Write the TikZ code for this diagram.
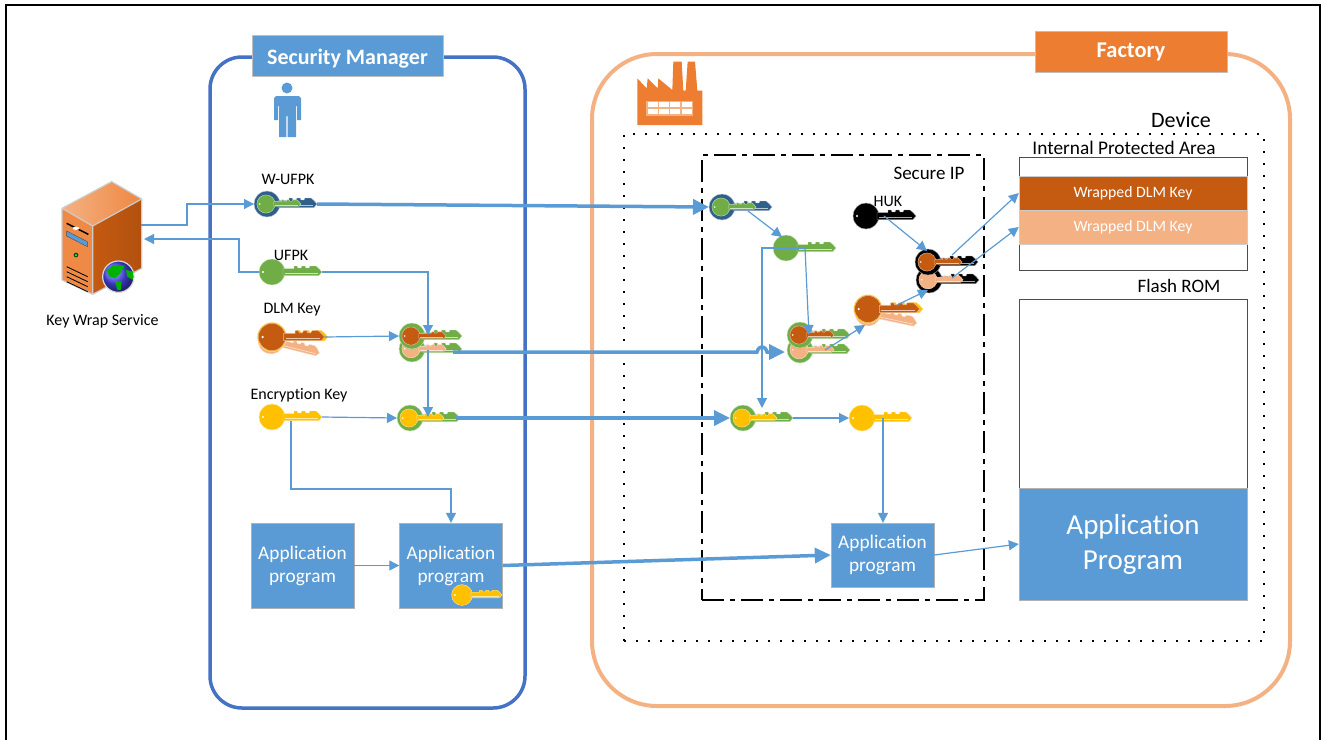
\documentclass[tikz,border=0pt]{standalone}
\usepackage{fontspec}
\setmainfont{Carlito}[Ligatures=CommonOff]
\usetikzlibrary{arrows.meta}

\definecolor{boxblue}{HTML}{5B9BD5}
\definecolor{mgrblue}{HTML}{4472C4}
\definecolor{factorange}{HTML}{ED7D31}
\definecolor{peach}{HTML}{F4B183}
\definecolor{rust}{HTML}{C55A11}
\definecolor{keygreen}{HTML}{70AD47}
\definecolor{keyyellow}{HTML}{FFC000}
\definecolor{keyblue}{HTML}{2F5F8A}

\tikzset{
    flow/.style={draw=boxblue, line width=1.2, -{Triangle[length=10pt,width=10pt]}},
    bigflow/.style={draw=boxblue, line width=3.5, -{Triangle[length=16pt,width=15pt]}},
    appbox/.style={draw=black!30, fill=boxblue, text=white, inner sep=0, align=center, font=\fontsize{19.3}{23}\selectfont},
    memorybox/.style={draw=black!70, fill=white, inner sep=0, minimum width=228},
    wrapbox/.style={draw=black!20, inner sep=0, minimum width=228, minimum height=34, text=white, font=\fontsize{15.8}{16}\selectfont},
    keylabel/.style={inner sep=0, font=\fontsize{16}{18}\selectfont},
    pics/ukey/.style={code={
        \filldraw[fill=#1, draw=#1!40!white, line width=.4] (0,0) circle (13);
        \filldraw[fill=#1, draw=#1!40!white, line width=.4] (11,-3.5) -- (22,-3.5) -- (22,-6) -- (25,-6) -- (26,-4) -- (29,-4) -- (30,-6) -- (33,-6) -- (34,-4) -- (37,-4) -- (38,-6) -- (44,-6) -- (47,-3.5) -- (50,0) -- (47,3.5) -- (11,3.5) -- cycle;
        \draw[#1!35!white, line width=.6] (13,1.5) -- (46,1.5);
        \fill[white] (-9,0) circle (1.2);
        \coordinate (-head) at (-13,0);
        \coordinate (-tip) at (50,0);
    }},
    pics/wrapkey/.style 2 args={code={
        \pic {ukey=#1};
        \pic[scale=.7] at (-1,0) {ukey=#2};
        \coordinate (-head) at (-13,0);
        \coordinate (-tip) at (50,0);
    }},
}

\begin{document}
\begin{tikzpicture}[x=1pt, y=-1pt]
    \useasboundingbox (0,0) rectangle (1322,740);
    \draw[line width=2.5] (6,740) -- (6,5) -- (1320,5) -- (1320,740);

    \node[draw=mgrblue, line width=3.5, rounded corners=32, minimum width=315, minimum height=651, inner sep=0] (manager) at (367.5,382.5) {};
    \node[draw=peach, line width=4, rounded corners=65, minimum width=698, minimum height=652, inner sep=0] (factory) at (941,380) {};
    \node[draw=black!25, fill=boxblue, text=white, inner sep=0, minimum width=191, minimum height=41, text depth=0, font=\fontsize{22}{24}\selectfont\bfseries] (managertitle) at (347.5,55.5) {\raisebox{-2pt}{Security Manager}};
    \node[draw=black!25, fill=factorange, text=white, inner sep=0, minimum width=192, minimum height=41, font=\fontsize{22.5}{24}\selectfont\bfseries] (factorytitle) at (1131,51.5) {\raisebox{-2pt}{Factory}};

    \node[draw, line width=2, dash pattern=on 2pt off 10pt, inner sep=0, minimum width=640, minimum height=507] (device) at (944,387.5) {};
    \node[draw, line width=2, dash pattern=on 22pt off 6pt on 5pt off 6pt, inner sep=0, minimum width=282, minimum height=445] (secureip) at (843,377.5) {};
    \node[inner sep=0, font=\fontsize{22}{24}\selectfont] (devicelabel) at (1181,120) {Device};
    \node[inner sep=0, font=\fontsize{19.3}{20}\selectfont] (iparea) at (1124,148) {Internal Protected Area};
    \node[inner sep=0, font=\fontsize{19}{20}\selectfont] (iplabel) at (929,173) {Secure IP};
    \node[inner sep=0, font=\fontsize{19}{20}\selectfont] (flashlabel) at (1179,286) {Flash ROM};

    \node[memorybox, minimum height=113] (ipbox) at (1133,213.5) {};
    \node[wrapbox, fill=rust] (wrapped1) at (1133,193) {Wrapped DLM Key};
    \node[wrapbox, fill=peach] (wrapped2) at (1133,227) {Wrapped DLM Key};
    \node[memorybox, minimum height=301] (flashbox) at (1133,450) {};
    \node[appbox, minimum width=228, minimum height=112, font=\fontsize{29}{35}\selectfont] (flashapp) at (1133,544) {\raisebox{-4pt}{Application}\\\raisebox{-4pt}{Program}};

    \node[appbox, minimum width=103, minimum height=85] (app1) at (302.5,565.5) {\raisebox{-3pt}{Application}\\\raisebox{-3pt}{program}};
    \node[appbox, minimum width=103, minimum height=85] (app2) at (451,565.5) {\raisebox{-3pt}{Application}\\\raisebox{-3pt}{program}};
    \node[appbox, minimum width=103, minimum height=64] (app3) at (882.5,555) {\raisebox{-3pt}{Application}\\\raisebox{-3pt}{program}};

    \begin{scope}[shift={(50,175)}, scale=1/3]
        \shade[left color=peach, right color=factorange!80!peach] (185,20) -- (275,72) -- (128,153) -- (36,100) -- cycle;
        \fill[factorange!90!white] (36,100) -- (128,153) -- (128,358) -- (36,315) -- cycle;
        \shade[left color=rust, right color=rust!90!black] (128,153) -- (275,72) -- (275,280) -- (128,358) -- cycle;
        \draw[black!20, line width=1.2, line join=round] (185,20) -- (275,72) -- (275,280) -- (128,358) -- (36,315) -- (36,100) -- cycle (36,100) -- (128,153) -- (275,72) (128,153) -- (128,358);
        \draw[black, line width=1.5] (50,145) -- (115,178);
        \fill[white] (78,160) ellipse (10 and 5);
        \filldraw[fill=boxblue, draw=black!70] (50,168) -- (112,200) -- (112,215) -- (50,183) -- cycle;
        \fill[green!30!black] (78,240) circle (7);
        \fill[green!60!white] (78,240) circle (3);
        \draw[black, line width=.8] (50,275) -- (113,305) (50,290) -- (113,320) (50,305) -- (113,335) (50,320) -- (113,350);
        \shade[ball color=blue!70!white, draw=black!15, line width=1.2] (205,305) circle (47);
        \fill[green!70!black] (170,285) -- (190,270) -- (225,272) -- (210,295) -- (195,310) -- (178,305) -- cycle;
        \fill[green!70!black] (195,318) -- (215,320) -- (212,345) -- (202,345) -- cycle;
        \fill[green!70!black] (228,285) -- (250,290) -- (248,315) -- (232,305) -- cycle;
    \end{scope}
    \node[keylabel] (wraplabel) at (102.5,321) {Key Wrap Service};
    \coordinate (server-out) at (141,225);
    \coordinate (server-in) at (144,239);

    \fill[boxblue] (287,88) circle (5.5);
    \fill[boxblue] (274,98) -- (276,96) -- (299,96) -- (301,98) -- (301,120) -- (297,120) -- (297,106) -- (296,106) -- (296,137) -- (287.6,137) -- (287.6,116) -- (286.4,116) -- (286.4,137) -- (279,137) -- (279,106) -- (278,106) -- (278,120) -- (274,120) -- cycle;

    \begin{scope}[shift={(620,50)}, scale=1/3]
        \fill[factorange] (52,85) -- (80,115) -- (83,85) -- (113,115) -- (115,85) -- (157,120) -- (160,35) -- (185,35) -- (190,122) -- (197,122) -- (203,35) -- (225,35) -- (232,122) -- (247,122) -- (247,225) -- (52,225) -- cycle;
        \fill[peach] (78,152) rectangle (220,197);
        \foreach \i in {0,1,2,3} {
            \fill[white] (83+34*\i,157) rectangle (113+34*\i,172);
            \fill[white] (83+34*\i,177) rectangle (113+34*\i,192);
        }
    \end{scope}

    \pic (wufpk) at (267,204) {wrapkey={keyblue}{keygreen}};
    \node[keylabel] (wufpklabel) at (288,179) {W-UFPK};
    \pic (ufpk) at (272,272) {ukey=keygreen};
    \node[keylabel] (ufpklabel) at (291,255) {UFPK};
    \pic[rotate=-14] (dlmback) at (271,341) {ukey=peach};
    \pic[scale=1.12] (dlmring) at (272,337) {ukey=keyyellow};
    \pic[scale=1.05] (dlm) at (272,337) {ukey=rust};
    \node[keylabel] (dlmlabel) at (292,310) {DLM Key};
    \pic (enc) at (272,417) {ukey=keyyellow};
    \node[keylabel] (enclabel) at (299,395) {Encryption Key};

    \pic[rotate=-13] (cdlmback) at (412,349) {wrapkey={keygreen}{peach}};
    \pic (cdlm) at (412,336) {wrapkey={keygreen}{rust}};
    \pic (cenc) at (410,418) {wrapkey={keygreen}{keyyellow}};
    \pic[scale=.8] (appkey) at (462,595) {ukey=keyyellow};

    \pic (swufpk) at (722,207) {wrapkey={keyblue}{keygreen}};
    \pic (sufpk) at (786,248) {ukey=keygreen};
    \pic (huk) at (866,216) {ukey=black};
    \node[keylabel] (huklabel) at (888,201) {HUK};
    \pic[rotate=-13] (scdlmback) at (800,350) {wrapkey={keygreen}{peach}};
    \pic (scdlm) at (800,335) {wrapkey={keygreen}{rust}};
    \pic[rotate=-12] (sdlmback) at (868,313) {ukey=peach};
    \pic[scale=1.1] (sdlmring) at (868,309) {ukey=keyyellow};
    \pic[scale=1.03] (sdlm) at (868,309) {ukey=rust};
    \pic[rotate=-12] (hwrapback) at (929,280) {wrapkey={black}{peach}};
    \pic (hwrap) at (928,262) {wrapkey={black}{rust}};
    \pic (scenc) at (743,418) {wrapkey={keygreen}{keyyellow}};
    \pic (senc) at (862,418) {ukey=keyyellow};

    \coordinate (cdlm-in) at (428,335);
    \coordinate (cdlm-out) at (428,350);
    \coordinate (cenc-in) at (428,417);
    \coordinate (enc-down) at (291,421);
    \coordinate (dlm-thick) at (453,352);
    \coordinate (cenc-thick) at (456,418);
    \coordinate (scdlm-thick) at (785,352);
    \coordinate (scdlm-in) at (809,335);
    \coordinate (scenc-in) at (762,408);
    \coordinate (sufpk-branch) at (805,248);
    \coordinate (swufpk-out) at (748,211);
    \coordinate (sufpk-in) at (782,237);
    \coordinate (huk-out) at (884,216);
    \coordinate (hwrap-in) at (927,251);
    \coordinate (scdlm-out) at (825,350);
    \coordinate (sdlm-in) at (865,325);
    \coordinate (sdlm-out) at (897,305);
    \coordinate (hwrap-in2) at (928,290);
    \coordinate (hwrap-out) at (952,255);
    \coordinate (hwrap-out2) at (952,278);
    \coordinate (senc-down) at (883,418);

    \draw[flow] (server-out) -- (187,225) |- (wufpk-head);
    \draw[flow] (ufpk-head) -- (239,272) |- (server-in);
    \draw[flow] (ufpk-tip) -| (cdlm-in);
    \draw[flow] (dlm-tip) -- (cdlm-head);
    \draw[flow] (cdlm-out) -- (cenc-in);
    \draw[flow] (enc-tip) -- (cenc-head);
    \draw[flow] (enc-down) |- (451,489) -- (app2.north);
    \draw[flow] (app1) -- (app2);

    \draw[bigflow] (wufpk-tip) -- (swufpk-head);
    \draw[bigflow] (dlm-thick) -- (757,352) .. controls (759,345) and (765,345) .. (767,352) -- (scdlm-thick);
    \draw[bigflow] (cenc-thick) -- (scenc-head);
    \draw[bigflow] (app2.east) -- (app3.west);

    \draw[flow] (swufpk-out) -- (sufpk-in);
    \draw[flow] (sufpk-branch) -- (762,248) -- (scenc-in);
    \draw[flow] (sufpk-branch) -- (scdlm-in);
    \draw[flow] (huk-out) -- (hwrap-in);
    \draw[flow] (scdlm-out) -- (sdlm-in);
    \draw[flow] (sdlm-out) -- (hwrap-in2);
    \draw[flow] (hwrap-out) -- (wrapped1.west);
    \draw[flow] (hwrap-out2) -- (wrapped2.west);
    \draw[flow] (scenc-tip) -- (senc-head);
    \draw[flow] (senc-down) -- (app3.north -| senc-down);
    \draw[flow] (app3.east) -- (flashapp.west);
\end{tikzpicture}
\end{document}
